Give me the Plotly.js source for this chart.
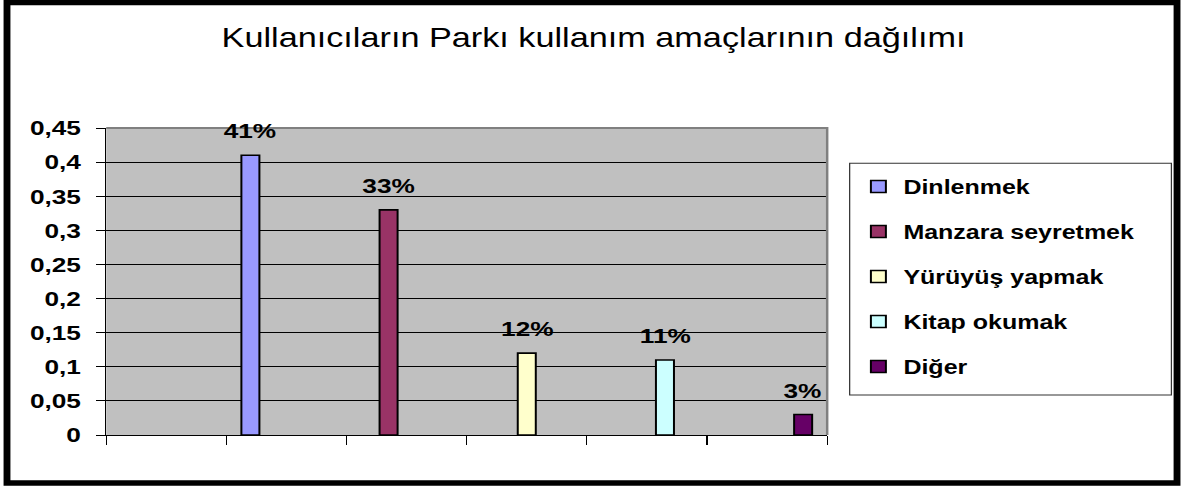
<!DOCTYPE html>
<html>
<head>
<meta charset="utf-8">
<script src="https://cdn.plot.ly/plotly-3.0.1.min.js"></script>
<style>
  html, body { margin: 0; padding: 0; background: #fff; overflow: hidden; }
  #wrap { width: 1187px; height: 488px; overflow: hidden; position: relative; }
  #chart { width: 950px; height: 488px; transform: scaleX(1.2495); transform-origin: 0 0; }
</style>
</head>
<body>
<div id="wrap"><div id="chart"></div></div>
<script>
// ---- data ----
const categories = ["1", "2", "3", "4", "5", "6"];
const seriesNames = ["Dinlenmek", "Manzara seyretmek", "Yürüyüş yapmak", "Kitap okumak", "Diğer"];
const seriesValues = [0.41, 0.33, 0.12, 0.11, 0.03];
const seriesCategory = ["2", "3", "4", "5", "6"];
const seriesColors = ["#9999FF", "#993366", "#FFFFCC", "#CCFFFF", "#660066"];
const chartTitle = "Kullanıcıların Parkı kullanım amaçlarının dağılımı";
const yTicks = [0, 0.05, 0.1, 0.15, 0.2, 0.25, 0.3, 0.35, 0.4, 0.45];

// ---- layout constants (unscaled px) ----
const W = 950, H = 488;
const M = { l: 85, r: 288, t: 128, b: 53 };
const PW = W - M.l - M.r, PH = H - M.t - M.b;
const px2x = p => (p - M.l) / PW;
const px2y = p => (H - M.b - p) / PH;
const FONT = "Liberation Sans, Arial, sans-serif";
const BARGAP = 0.25;

const traces = seriesNames.map((name, i) => ({
  type: "bar",
  name: name,
  x: [seriesCategory[i]],
  y: [seriesValues[i]],
  legendgroup: "g" + i,
  alignmentgroup: "all",
  offsetgroup: "s" + i,
  marker: { color: seriesColors[i], line: { color: "#000", width: 1.6 } },
  hoverinfo: "skip"
}));

const n = seriesNames.length;
const slot = (1 - BARGAP) / n;
const annotations = seriesNames.map((name, i) => ({
  x: categories.indexOf(seriesCategory[i]) - (1 - BARGAP) / 2 + slot * (i + 0.5),
  y: seriesValues[i],
  xref: "x", yref: "y",
  text: Math.round(seriesValues[i] * 100) + "%",
  showarrow: false,
  xanchor: "center", yanchor: "bottom",
  yshift: 11,
  font: { family: FONT, size: 21, weight: 700, color: "#000" }
}));

const layout = {
  width: W, height: H,
  margin: { l: M.l, r: M.r, t: M.t, b: M.b, autoexpand: false },
  paper_bgcolor: "#fff",
  plot_bgcolor: "#C0C0C0",
  separators: ",.",
  barmode: "group",
  bargap: BARGAP,
  bargroupgap: 0,
  title: {
    text: chartTitle,
    font: { family: FONT, size: 27.4, color: "#000" },
    x: 0.5, xref: "container", xanchor: "center",
    y: 1 - 37 / H, yref: "container", yanchor: "middle"
  },
  xaxis: {
    type: "category",
    categoryorder: "array", categoryarray: categories,
    range: [-0.5, categories.length - 0.5],
    tickson: "boundaries",
    ticks: "outside", ticklen: 9, tickwidth: 1, tickcolor: "#000",
    showticklabels: false,
    showgrid: false, zeroline: false,
    showline: true, linecolor: "#000", linewidth: 1,
    fixedrange: true
  },
  yaxis: {
    range: [0, 0.45],
    tickmode: "array", tickvals: yTicks,
    ticks: "outside", ticklen: 7, tickwidth: 1, tickcolor: "#000",
    ticklabelstandoff: 8,
    tickfont: { family: FONT, size: 21, weight: 700, color: "#000" },
    showgrid: true, gridcolor: "#000", gridwidth: 1,
    zeroline: false,
    showline: true, linecolor: "#000", linewidth: 1,
    fixedrange: true
  },
  showlegend: true,
  legend: {
    x: px2x(683), y: px2y(167), xanchor: "left", yanchor: "top",
    xref: "paper", yref: "paper",
    bgcolor: "rgba(0,0,0,0)", borderwidth: 0,
    font: { family: FONT, size: 20, weight: 700, color: "#000" },
    traceorder: "grouped",
    tracegroupgap: 16,
    itemwidth: 30,
    itemclick: false, itemdoubleclick: false
  },
  annotations: annotations,
  shapes: [
    // plot area border (top/right)
    { type: "path", xref: "paper", yref: "paper", path: "M0,1L1,1L1,0",
      line: { color: "#808080", width: 2 }, layer: "above" },
    // legend box
    { type: "rect", xref: "paper", yref: "paper",
      x0: px2x(680), x1: px2x(937.5), y0: px2y(395), y1: px2y(163.3),
      line: { color: "#333", width: 1 }, fillcolor: "#fff", layer: "above" },
    // chart frame
    { type: "rect", xref: "paper", yref: "paper",
      x0: px2x(5.6), x1: px2x(942), y0: px2y(483), y1: px2y(2.5),
      line: { color: "#000", width: 5.5 }, fillcolor: "rgba(0,0,0,0)", layer: "above" }
  ]
};

Plotly.newPlot("chart", traces, layout, { displayModeBar: false, staticPlot: true });
</script>
</body>
</html>
